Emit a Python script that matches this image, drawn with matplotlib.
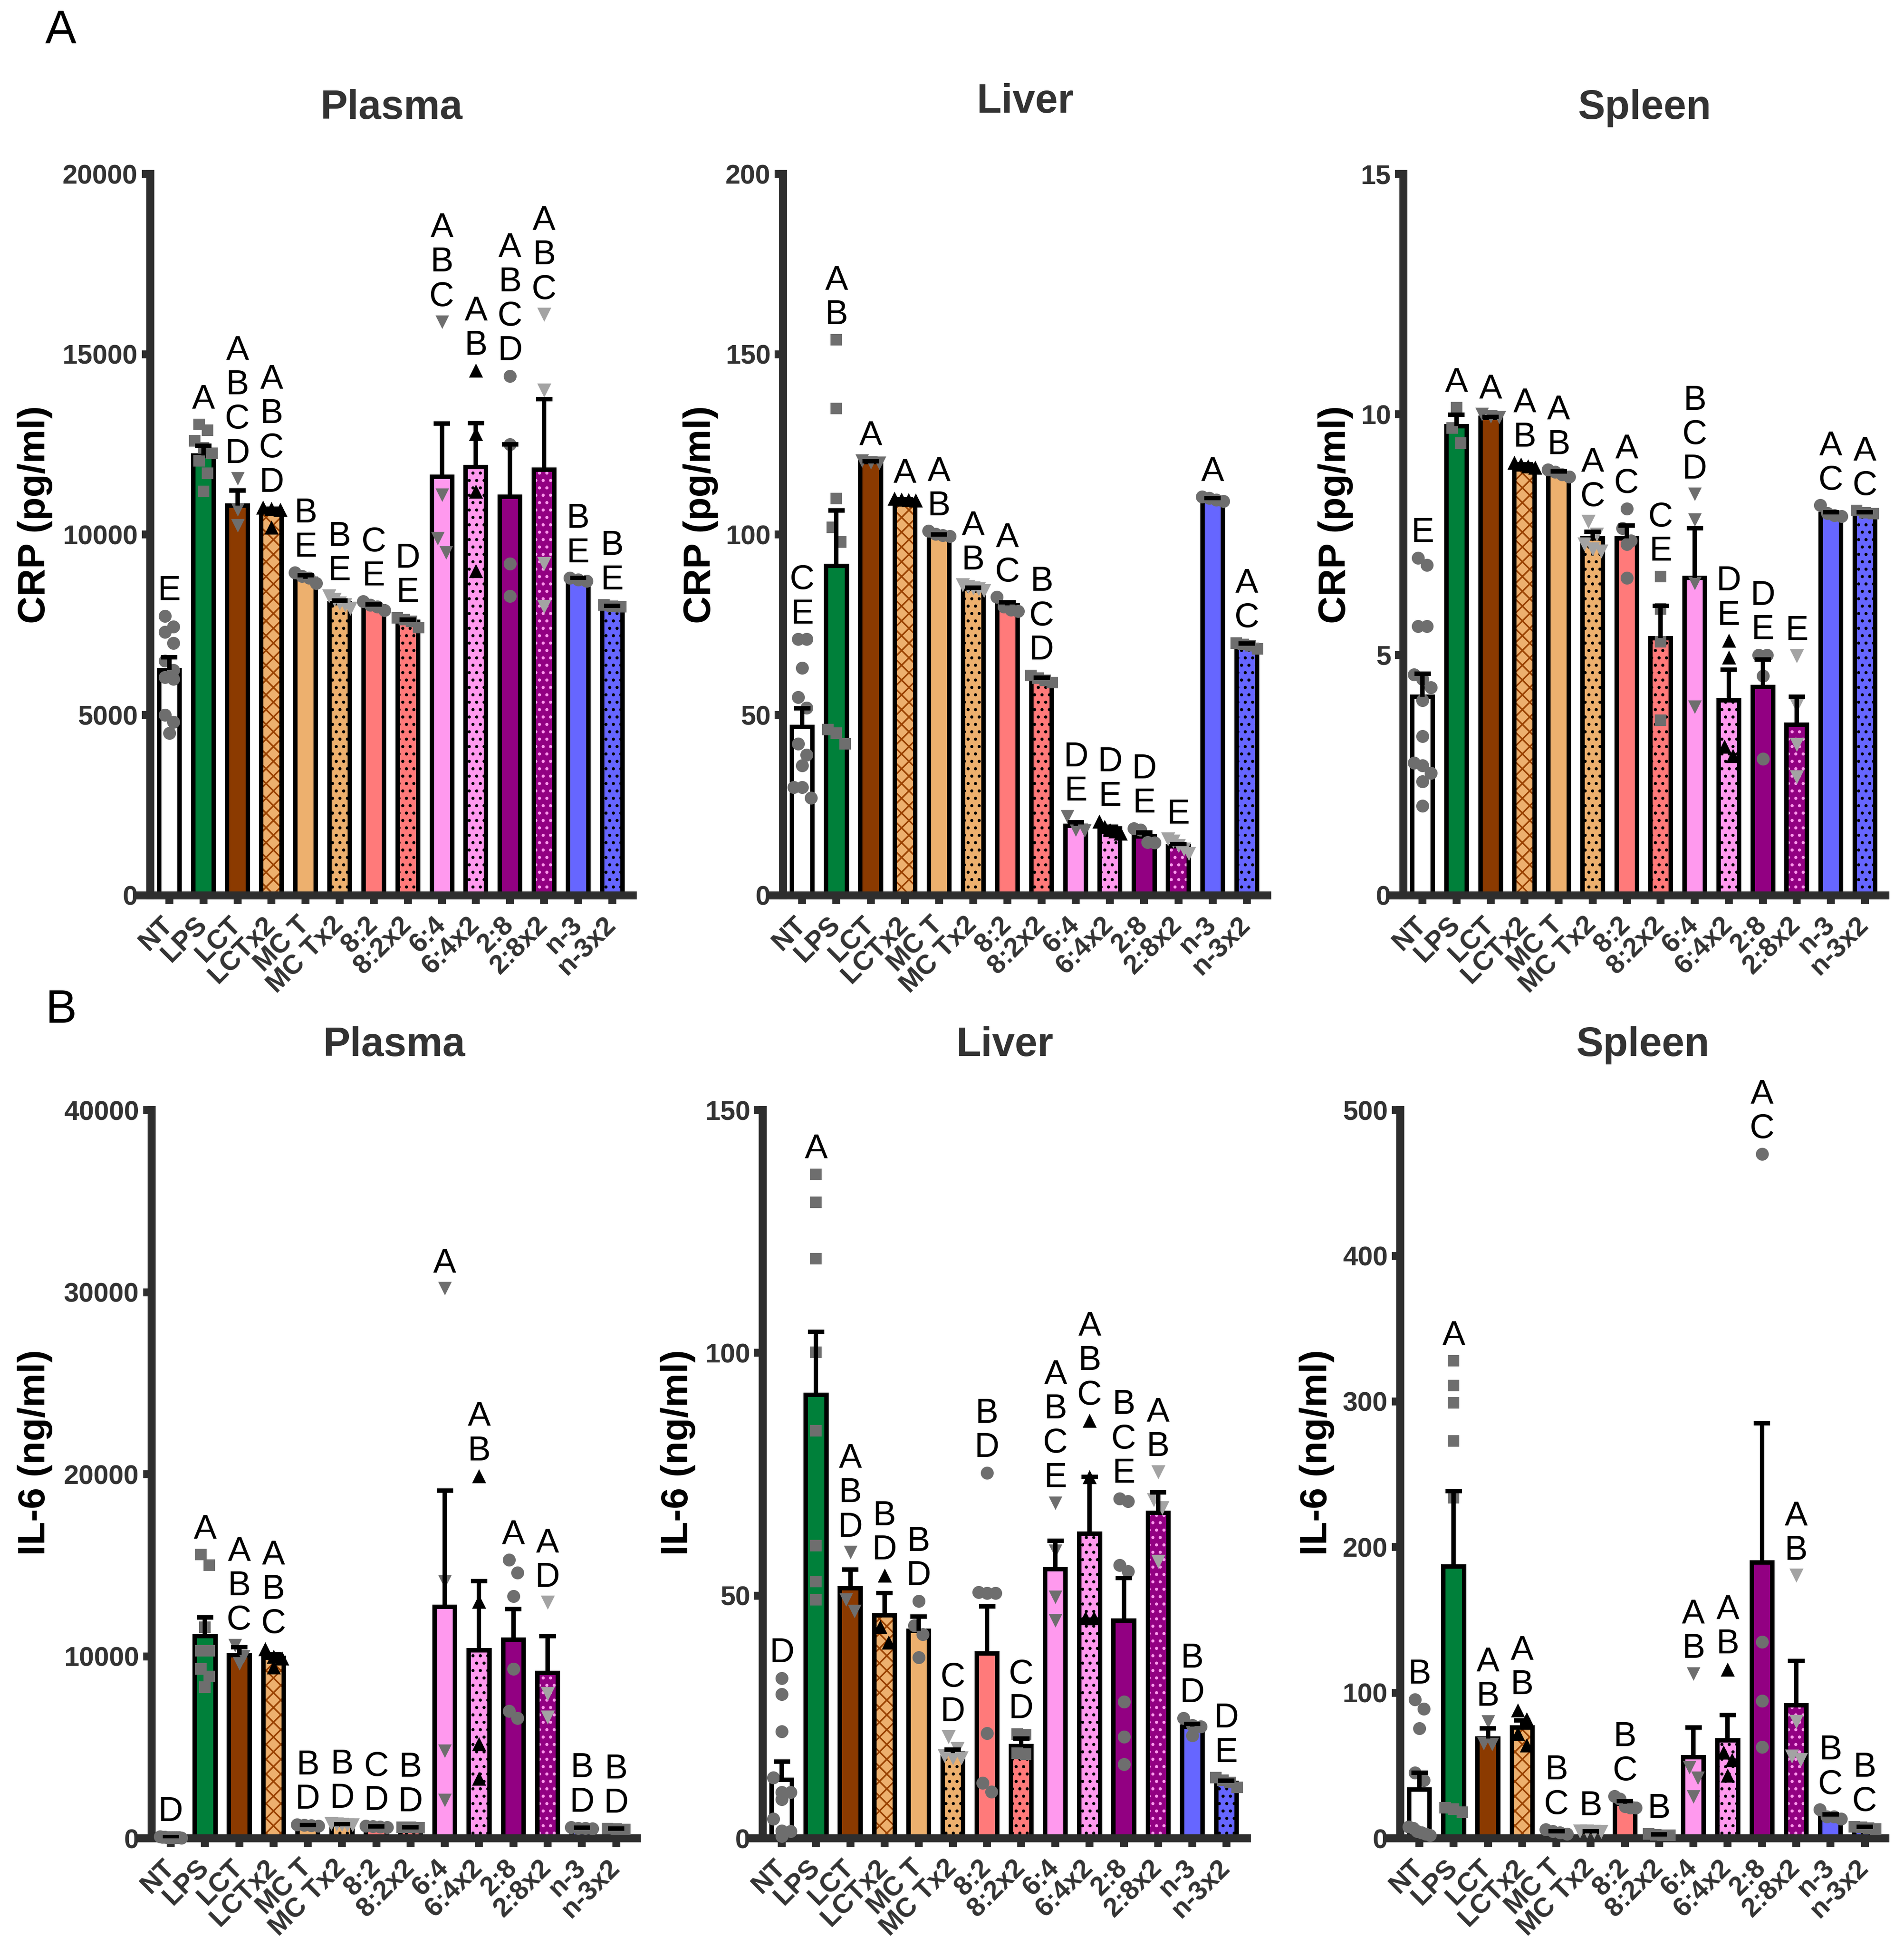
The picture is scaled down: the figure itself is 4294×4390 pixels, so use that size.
import numpy as np
import matplotlib
matplotlib.use("Agg")
import matplotlib.pyplot as plt

plt.rcParams['font.family'] = ['Liberation Sans', 'DejaVu Sans']
plt.rcParams['hatch.linewidth'] = 1.3

groups = ['NT', 'LPS', 'LCT', 'LCTx2', 'MC T', 'MC Tx2', '8:2', '8:2x2',
          '6:4', '6:4x2', '2:8', '2:8x2', 'n-3', 'n-3x2']

# ---------------- CRP plasma (pg/ml) ----------------
crp_plasma_mean = [6250, 12200, 10800, 10620, 8780, 8100, 8010, 7590, 11600, 11880, 11050, 11800, 8760, 8010]
crp_plasma_sem = [350, 260, 420, 100, 90, 70, 50, 60, 1480, 1210, 1450, 1950, 40, 20]
crp_plasma_pts = [
    [7750, 7450, 7300, 7000, 6500, 6250, 6050, 6000, 5000, 4800, 4500],
    [13050, 12900, 12600, 12400, 12250, 12050, 11700, 11200],
    [11550, 10700, 10250],
    [10750, 10720, 10700, 10200],
    [8950, 8850, 8800, 8650],
    [8300, 8200, 8100, 8050, 7950],
    [8150, 8050, 8000, 7900],
    [7700, 7650, 7600, 7420],
    [15900, 11100, 9900, 9500],
    [14550, 12800, 11200, 9000],
    [14400, 12500, 9200, 8300],
    [16100, 14000, 9200, 8000],
    [8800, 8750, 8720],
    [8050, 8020, 8000],
]
crp_plasma_letters = ['E', 'A', 'ABCD', 'ABCD', 'BE', 'BE', 'CE', 'DE', 'ABC', 'AB', 'ABCD', 'ABC', 'BE', 'BE']

# ---------------- CRP liver (pg/ml) ----------------
crp_liver_mean = [46.7, 91.3, 120.1, 109.6, 99.8, 85.0, 80.4, 59.9, 19.3, 18.5, 16.3, 13.6, 109.9, 69.4]
crp_liver_sem = [5.2, 15.4, 0.3, 0.2, 0.3, 0.3, 0.9, 0.5, 1.0, 0.6, 1.1, 0.6, 0.3, 0.4]
crp_liver_pts = [
    [71, 71, 63, 55, 52, 42, 39, 36, 30, 30, 27],
    [154, 135, 110, 102, 98, 46, 45, 42],
    [120.5, 120, 119.8],
    [110, 109.8, 109.6, 109.5],
    [101, 100.2, 99.8, 99.6],
    [86, 85.5, 85.2, 85, 84.4],
    [82.7, 80, 79.2, 78.8],
    [61, 60.2, 59.6, 59],
    [21.9, 18.2, 18.0],
    [20.5, 19, 18.2, 17.8, 17.2],
    [18.6, 18.2, 14.8, 14.6],
    [15.6, 15, 13.8, 12.8, 11.6],
    [110.5, 110.2, 109.6, 109.3],
    [70, 69.6, 69.2, 68.4],
]
crp_liver_letters = ['CE', 'AB', 'A', 'A', 'AB', 'AB', 'AC', 'BCD', 'DE', 'DE', 'DE', 'E', 'A', 'AC']

# ---------------- CRP spleen (pg/ml) ----------------
crp_spleen_mean = [4.13, 9.75, 9.93, 8.93, 8.77, 7.42, 7.42, 5.35, 6.6, 4.06, 4.33, 3.55, 7.93, 7.95]
crp_spleen_sem = [0.48, 0.24, 0.02, 0.03, 0.04, 0.14, 0.27, 0.67, 1.03, 0.63, 0.57, 0.58, 0.04, 0.02]
crp_spleen_pts = [
    [7.02, 6.87, 5.6, 5.6, 4.59, 4.5, 4.32, 4.06, 3.31, 2.76, 2.7, 2.54, 2.37, 1.86],
    [10.14, 9.72, 9.4],
    [10.0, 9.96, 9.94],
    [9.0, 8.96, 8.92, 8.9],
    [8.85, 8.8, 8.75, 8.7],
    [7.77, 7.5, 7.3, 7.2, 7.15],
    [8.04, 7.63, 7.38, 7.3, 6.6],
    [6.63, 5.96, 5.27, 3.64],
    [8.34, 7.81, 6.49, 3.92],
    [5.3, 4.95, 3.1, 2.9],
    [5.0, 5.0, 4.56, 2.84],
    [4.98, 3.95, 3.13, 2.46],
    [8.11, 7.95, 7.9, 7.88],
    [8.0, 7.96, 7.94],
]
crp_spleen_letters = ['E', 'A', 'A', 'AB', 'AB', 'AC', 'AC', 'CE', 'BCD', 'DE', 'DE', 'E', 'AC', 'AC']

# ---------------- IL-6 plasma (ng/ml) ----------------
il6_plasma_mean = [60, 11100, 10060, 9920, 720, 760, 650, 600, 12730, 10320, 10910, 9080, 560, 520]
il6_plasma_sem = [10, 1040, 430, 200, 20, 20, 15, 10, 6380, 3820, 1690, 2020, 20, 15]
il6_plasma_pts = [
    [90, 80, 70, 60, 60, 50, 50, 40, 40, 30],
    [15600, 15000, 11600, 10300, 10300, 9300, 8900, 8300],
    [10600, 10000, 9600],
    [10400, 10000, 9900, 9400],
    [760, 720, 700, 690],
    [800, 780, 760, 740, 720],
    [680, 660, 640, 620],
    [620, 600, 590],
    [30200, 14100, 4800, 2100],
    [19900, 13000, 5200, 3300],
    [15300, 14600, 13300, 9300, 7000, 6600],
    [12950, 7950, 6650],
    [600, 570, 550, 530],
    [540, 520, 500],
]
il6_plasma_letters = ['D', 'A', 'ABC', 'ABC', 'BD', 'BD', 'CD', 'BD', 'A', 'AB', 'A', 'AD', 'BD', 'BD']

# ---------------- IL-6 liver (ng/ml) ----------------
il6_liver_mean = [12.1, 91.4, 51.5, 46.0, 42.8, 17.5, 38.1, 19.0, 55.5, 62.8, 44.9, 67.1, 23.0, 11.4]
il6_liver_sem = [3.7, 12.9, 3.9, 4.5, 2.9, 0.8, 9.7, 1.6, 5.8, 11.7, 8.7, 4.2, 0.6, 0.5]
il6_liver_pts = [
    [33, 29.7, 22, 12.5, 9.5, 9.5, 8, 4, 1.6, 1.5, 0.5],
    [136.8, 131, 119.4, 100.1, 84, 60.3, 52.9, 49.2],
    [58.9, 49.2, 46.8],
    [54.2, 43.6, 40.4],
    [48.9, 43.9, 42, 37.3],
    [20.9, 18.5, 17, 16.5, 16.5],
    [75.3, 50.7, 50.5, 50.5, 21.7, 11.4, 9.6],
    [21.5, 21.4, 17.5, 17.4],
    [69.1, 59.2, 49.7, 44.9],
    [86.1, 74.5, 45.4, 45.4],
    [70, 69.4, 56.3, 55, 28.1, 20.9, 15.3],
    [75.5, 69.7, 68.1, 57],
    [24.8, 23.3, 23, 21.2],
    [12.5, 12, 11.5, 10.5],
]
il6_liver_letters = ['D', 'A', 'ABD', 'BD', 'BD', 'CD', 'BD', 'CD', 'ABCE', 'ABC', 'BCE', 'AB', 'BD', 'DE']

# ---------------- IL-6 spleen (ng/ml) ----------------
il6_spleen_mean = [33.4, 186.8, 68.6, 76.0, 4.2, 4.5, 23.9, 2.5, 55.6, 67.2, 189.3, 91.5, 15.1, 7.5]
il6_spleen_sem = [11.6, 51.8, 7.0, 5.0, 0.7, 0.3, 1.6, 0.3, 20.4, 17.6, 95.7, 30.2, 1.5, 0.5]
il6_spleen_pts = [
    [95.4, 89, 75.6, 45, 39.8, 8, 7, 5, 4, 3, 2],
    [328, 311, 299, 273, 234, 21, 20, 18],
    [80.2, 65.1, 64.5],
    [88, 82, 72, 64],
    [6, 5, 4, 3],
    [5, 5, 4.5, 4.5],
    [29, 27, 22, 21, 21],
    [3, 2.5, 2, 2],
    [113, 48.6, 41.5, 28.5],
    [116, 59, 53.8, 43.3],
    [470, 134.8, 94.3, 62.6],
    [180.5, 80.2, 56.3, 53.8],
    [19.7, 15, 15, 13.4],
    [8, 7.5, 7, 6.5],
]
il6_spleen_letters = ['B', 'A', 'AB', 'AB', 'BC', 'B', 'BC', 'B', 'AB', 'AB', 'AC', 'AB', 'BC', 'BC']

# ---------------- styles ----------------
face_colors = ['#FFFFFF', '#00803A', '#8B3A00', '#EDB06E', '#EDB06E', '#EDB06E', '#FF7A7A', '#FF7A7A',
               '#FF99EE', '#FF99EE', '#920082', '#920082', '#6666FF', '#6666FF']
hatches = [None, None, None, 'xx', None, '..', None, '..', None, '..', None, '..', None, '..']
hatch_colors = [None, None, None, '#9A4200', None, '#000000', None, '#000000', None, '#000000',
                None, '#FF99EE', None, '#000000']
markers = ['o', 's', 'v', '^', 'o', 'v', 'o', 's', 'v', '^', 'o', 'v', 'o', 's']
DG, LG = '#6E6E6E', '#A3A3A3'
marker_colors = [DG, DG, DG, 'black', DG, LG, DG, DG, DG, 'black', DG, LG, DG, DG]
marker_sizes = [110, 85, 120, 130, 110, 130, 110, 85, 120, 130, 110, 130, 110, 85]

AX = '#2E2E2E'
TXT = '#333333'

panels = [
    dict(mean=crp_plasma_mean, sem=crp_plasma_sem, pts=crp_plasma_pts, let=crp_plasma_letters,
         ymax=20000, step=5000, title='Plasma', ylabel='CRP (pg/ml)',
         rect=[0.0789, 0.5401, 0.2534, 0.3706], tdy=0.091, ylx=-0.239, yly=0.528),
    dict(mean=crp_liver_mean, sem=crp_liver_sem, pts=crp_liver_pts, let=crp_liver_letters,
         ymax=200, step=50, title='Liver', ylabel='CRP (pg/ml)',
         rect=[0.4113, 0.5401, 0.2543, 0.3706], tdy=0.0996, ylx=-0.170, yly=0.528),
    dict(mean=crp_spleen_mean, sem=crp_spleen_sem, pts=crp_spleen_pts, let=crp_spleen_letters,
         ymax=15, step=5, title='Spleen', ylabel='CRP (pg/ml)',
         rect=[0.7371, 0.5401, 0.2531, 0.3706], tdy=0.091, ylx=-0.141, yly=0.528),
    dict(mean=il6_plasma_mean, sem=il6_plasma_sem, pts=il6_plasma_pts, let=il6_plasma_letters,
         ymax=40000, step=10000, title='Plasma', ylabel='IL-6 (ng/ml)',
         rect=[0.0796, 0.0558, 0.2548, 0.3740], tdy=0.089, ylx=-0.240, yly=0.530),
    dict(mean=il6_liver_mean, sem=il6_liver_sem, pts=il6_liver_pts, let=il6_liver_letters,
         ymax=150, step=50, title='Liver', ylabel='IL-6 (ng/ml)',
         rect=[0.4006, 0.0558, 0.2543, 0.3740], tdy=0.089, ylx=-0.175, yly=0.530),
    dict(mean=il6_spleen_mean, sem=il6_spleen_sem, pts=il6_spleen_pts, let=il6_spleen_letters,
         ymax=500, step=100, title='Spleen', ylabel='IL-6 (ng/ml)',
         rect=[0.7354, 0.0558, 0.2548, 0.3740], tdy=0.089, ylx=-0.172, yly=0.530),
]


def swarm_offsets(vals, ymax, thr_frac=0.022, step=0.25, maxw=0.62):
    vals = np.asarray(vals, float)
    order = np.argsort(-vals)
    offs = np.zeros(len(vals))
    rows, cur = [], []
    for i in order:
        if cur and vals[cur[0]] - vals[i] > thr_frac * ymax:
            rows.append(cur)
            cur = []
        cur.append(i)
    if cur:
        rows.append(cur)
    for r in rows:
        n = len(r)
        st = step if n <= 1 else min(step, maxw / (n - 1))
        for k, i in enumerate(r):
            offs[i] = (k - (n - 1) / 2) * st
    return offs


fig = plt.figure(figsize=(4294 / 200, 4390 / 200), dpi=200)
x = np.arange(len(groups))
BW = 0.6
XL = (-0.56, 13.6)

for p in panels:
    ax = fig.add_axes(p['rect'])
    mean = np.array(p['mean'], float)
    sem = np.array(p['sem'], float)
    ymax = p['ymax']
    for i in range(len(groups)):
        ax.bar(x[i], mean[i], BW, color=face_colors[i],
               edgecolor=hatch_colors[i] if hatches[i] else face_colors[i],
               linewidth=0, hatch=hatches[i], zorder=2)
    ax.bar(x, mean, BW, fill=False, edgecolor='black', linewidth=3.6, zorder=2.2)
    # points
    for i in range(len(groups)):
        v = np.array(p['pts'][i], float)
        off = swarm_offsets(v, ymax)
        ax.scatter(x[i] + off, v, s=marker_sizes[i], marker=markers[i], color=marker_colors[i],
                   linewidths=0, zorder=3, clip_on=False)
    # error bars (upper SEM only)
    ax.vlines(x, mean, mean + sem, color='black', linewidth=3.6, zorder=3.5)
    ax.hlines(mean + sem, x - 0.24, x + 0.24, color='black', linewidth=3.6, zorder=3.5)
    # significance letters
    for i in range(len(groups)):
        top = max(max(p['pts'][i]), mean[i] + sem[i])
        ax.text(x[i], top + 0.012 * ymax, '\n'.join(p['let'][i]), ha='center', va='bottom',
                fontsize=28, linespacing=1.08, color='black', zorder=5, clip_on=False)

    ax.set_xlim(*XL)
    ax.set_ylim(0, ymax)
    ax.set_yticks(np.arange(0, ymax + 1e-9, p['step']))
    ax.set_yticklabels([f"{int(t)}" for t in np.arange(0, ymax + 1e-9, p['step'])],
                       fontsize=22, fontweight='bold', color=TXT)
    ax.set_xticks(x)
    ax.set_xticklabels(groups, rotation=45, ha='right', va='center', rotation_mode='anchor',
                       fontsize=22, fontweight='bold', color=TXT)
    ax.tick_params(axis='y', length=6.8, width=6.4, color=AX, pad=3.4, direction='out')
    ax.tick_params(axis='x', length=6.8, width=6.4, color=AX, pad=14, direction='out')
    for s in ['top', 'right']:
        ax.spines[s].set_visible(False)
    for s in ['left', 'bottom']:
        ax.spines[s].set_linewidth(6.5)
        ax.spines[s].set_color(AX)
        ax.spines[s].set_capstyle('projecting')
        ax.spines[s].set_zorder(2.6)
    ax.spines['bottom'].set_bounds(XL[0] - 0.34, XL[1])
    ax.patch.set_alpha(0)

    ax.text(0.5, 1 + p['tdy'], p['title'], transform=ax.transAxes, ha='center', va='center',
            fontsize=33, fontweight='bold', color=TXT)
    ax.text(p['ylx'], p['yly'], p['ylabel'], transform=ax.transAxes, rotation=90,
            ha='center', va='center', fontsize=31, fontweight='bold', color='black')

fig.text(0.032, 0.984, 'A', fontsize=38, ha='center', va='center', color='black')
fig.text(0.032, 0.481, 'B', fontsize=38, ha='center', va='center', color='black')

fig.savefig('out.png', dpi=200, facecolor='white')
